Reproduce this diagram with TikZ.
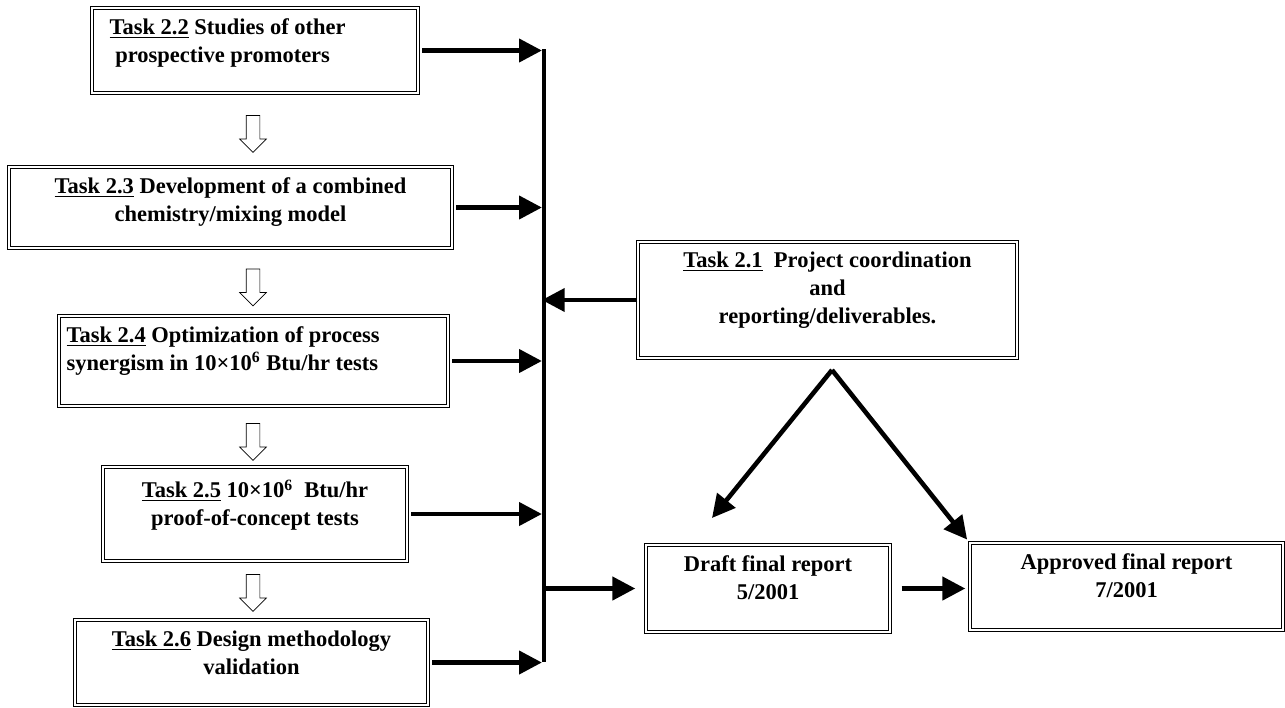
\documentclass[tikz,border=0pt]{standalone}
\usepackage{fontspec}
\setmainfont{Liberation Serif}
\usetikzlibrary{arrows.meta, shapes.arrows}

\newcommand{\tasklabel}[1]{\underline{Task #1}}

\begin{document}
\begin{tikzpicture}[
  taskbox/.style={draw, double, line width=0.8pt, double distance=1.2pt, inner sep=0pt},
  tasktext/.style={font=\fontsize{12.8}{16}\selectfont\bfseries, inner sep=0pt},
  flow/.style={line width=2.6pt, -{Triangle[length=13pt, width=13pt]}},
  hollow/.style={single arrow, draw, thin, rotate=-90, minimum height=0.74cm,
    inner xsep=0pt, inner ysep=0.13cm, single arrow head extend=0.13cm,
    single arrow tip angle=90}
]
\useasboundingbox (0,0) rectangle (25.7,-14.14);

% left column
\node[taskbox, minimum width=6.52cm, minimum height=1.70cm,
  label={[name=t22text, tasktext, anchor=north west, align=left, xshift=0.36cm, yshift=-0.22cm]north west:\tasklabel{2.2} Studies of other\\\ prospective promoters}] (t22) at (5.10,-1.01) {};
\node[taskbox, minimum width=8.86cm, minimum height=1.62cm,
  label={[name=t23text, tasktext, anchor=north, align=center, yshift=-0.22cm]north:\tasklabel{2.3} Development of a combined\\chemistry/mixing model}] (t23) at (4.61,-4.15) {};
\node[taskbox, minimum width=7.78cm, minimum height=1.80cm,
  label={[name=t24text, tasktext, anchor=north west, align=left, xshift=0.16cm, yshift=-0.22cm]north west:\tasklabel{2.4} Optimization of process\\synergism in 10×10\textsuperscript{6} Btu/hr tests}] (t24) at (5.07,-7.22) {};
\node[taskbox, minimum width=6.08cm, minimum height=1.88cm,
  label={[name=t25text, tasktext, anchor=north, align=center, yshift=-0.26cm]north:\tasklabel{2.5} 10×10\textsuperscript{6}\ \ Btu/hr\\proof-of-concept tests}] (t25) at (5.10,-10.28) {};
\node[taskbox, minimum width=7.06cm, minimum height=1.70cm,
  label={[name=t26text, tasktext, anchor=north, align=center, yshift=-0.22cm]north:\tasklabel{2.6} Design methodology\\validation}] (t26) at (5.03,-13.25) {};

\node[hollow] (d1) at (5.06,-2.61) {};
\node[hollow] (d2) at (5.06,-5.68) {};
\node[hollow] (d3) at (5.06,-8.77) {};
\node[hollow] (d4) at (5.06,-11.79) {};

% right side
\node[taskbox, minimum width=7.58cm, minimum height=2.32cm,
  label={[name=t21text, tasktext, anchor=north, align=center, yshift=-0.2cm]north:\tasklabel{2.1}\ \ Project coordination\\and\\reporting/deliverables.}] (t21) at (16.55,-6.00) {};
\node[taskbox, minimum width=4.88cm, minimum height=1.74cm,
  label={[name=drafttext, tasktext, anchor=north, align=center, yshift=-0.22cm]north:Draft final report\\5/2001}] (draft) at (15.36,-11.77) {};
\node[taskbox, minimum width=6.26cm, minimum height=1.74cm,
  label={[name=approvedtext, tasktext, anchor=north, align=center, yshift=-0.22cm]north:Approved final report\\7/2001}] (approved) at (22.53,-11.73) {};

% collecting bar
\coordinate (bartop) at (10.88,-0.98);
\coordinate (barbot) at (10.88,-13.24);
\draw[line width=2.4pt] (bartop) -- (barbot);

\foreach \t in {t22,t23,t24,t25,t26}
  \draw[flow, shorten <=2pt, shorten >=1.2pt] (\t.east) -- (\t.east -| bartop);
\draw[flow, shorten >=-1.2pt] (t21.west) -- (t21.west -| bartop);
\draw[flow, shorten <=1.2pt, shorten >=0.2cm] (draft.west -| bartop) -- (draft.west);
\draw[flow, shorten <=0.22cm, shorten >=0.08cm] (draft.east) -- (draft.east -| approved.west);

\coordinate (split) at (16.64,-7.40);
\coordinate (drafttip) at (14.24,-10.36);
\draw[flow] (split) -- (drafttip);
\draw[flow, shorten >=2pt] (split) -- (approved.north west);
\end{tikzpicture}
\end{document}
